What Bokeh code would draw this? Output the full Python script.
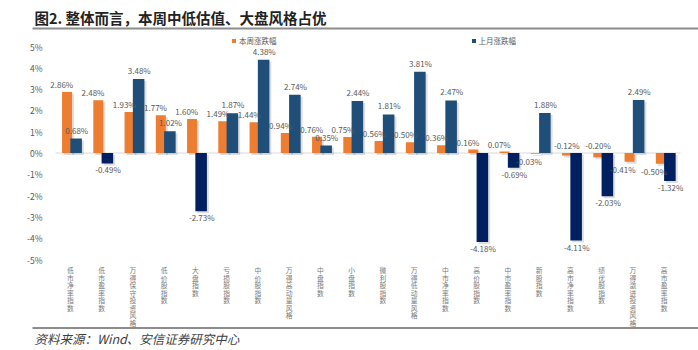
from bokeh.plotting import figure
from bokeh.models import (Range1d, FixedTicker, Label, ColumnDataSource, Legend, LegendItem,
                          PrintfTickFormatter)
from bokeh.transform import dodge
from bokeh.embed import file_html
from bokeh.resources import INLINE
from bokeh.core.properties import value, field

# ---------------- data ----------------
categories = ["低市净率指数", "低市盈率指数", "万得保守投资风格", "低价股指数", "大盘指数", "亏损股指数",
              "中价股指数", "万得高动量风格", "中盘指数", "小盘指数", "微利股指数", "万得低动量风格",
              "中市净率指数", "高价股指数", "中市盈率指数", "新股指数", "高市净率指数", "绩优股指数",
              "万得激进投资风格", "高市盈率指数"]
week_change = [2.86, 2.48, 1.93, 1.77, 1.60, 1.49, 1.44, 0.94, 0.76, 0.75, 0.56, 0.50, 0.36, 0.16,
               0.07, -0.03, -0.12, -0.20, -0.41, -0.50]
month_change = [0.68, -0.49, 3.48, 1.02, -2.73, 1.87, 4.38, 2.74, 0.35, 2.44, 1.81, 3.81, 2.47, -4.18,
                -0.69, 1.88, -4.11, -2.03, 2.49, -1.32]
series_names = ["本周涨跌幅", "上月涨跌幅"]
y_ticks = [-5, -4, -3, -2, -1, 0, 1, 2, 3, 4, 5]
title_text = "图2. 整体而言，本周中低估值、大盘风格占优"
source_text = "资料来源：Wind、安信证券研究中心"

ORANGE = "#ED7D31"
BLUE = "#1F4E79"
NAVY = "#002060"
FONT = "Noto Sans CJK SC"
LABEL_COLOR = "#595959"
CAT_COLOR = "#7a7a7a"
RULE_COLOR = "#8c8c8c"

# ---------------- layout (pixels) ----------------
W, H = 698, 350
PL, PR, PT, PB = 55, 680, 46, 259        # plot-area edges inside the canvas
n = len(categories)
cw = (PR - PL) / n                        # px per category
yu = (PB - PT) / (y_ticks[-1] - y_ticks[0])   # px per 1%
CHAR_PITCH = 7.5                          # vertical pitch of stacked category characters


def px_x(px):
    return (px - PL) / cw - 0.5


def px_y(py):
    return y_ticks[-1] - (py - PT) / yu


sh_x = 2.0 / cw
sh_y = 2.0 / yu

# orange labels: negative ones go above the zero line when the paired bar is a deep drop
week_up = [(w >= 0) or (m < -1.5) for w, m in zip(week_change, month_change)]
week_dx = [-0.30 if w >= 0 else (-0.14 if u else -0.35) for w, u in zip(week_change, week_up)]

src = ColumnDataSource(dict(
    xi=list(range(n)),
    week=week_change,
    month=month_change,
    mcolor=[BLUE if v >= 0 else NAVY for v in month_change],
    week_sh_top=[v - sh_y for v in week_change],
    month_sh_top=[v - sh_y for v in month_change],
    sh_bottom=[-sh_y] * n,
    week_txt=[f"{v:.2f}%" for v in week_change],
    month_txt=[f"{v:.2f}%" for v in month_change],
    week_lx=[i + d for i, d in zip(range(n), week_dx)],
    week_ly=[w if w >= 0 else (0 if u else w) for w, u in zip(week_change, week_up)],
    week_base=["bottom" if u else "top" for u in week_up],
    week_off=[-2 if u else 2 for u in week_up],
    month_base=["bottom" if v >= 0 else "top" for v in month_change],
    month_off=[-3 if v >= 0 else 1 for v in month_change],
))

# one text item per character of each category name, stacked downward
char_src = ColumnDataSource(dict(
    x=[i for i, c in enumerate(categories) for _ in c],
    y=[y_ticks[0] for c in categories for _ in c],
    ch=[ch for c in categories for ch in c],
    off=[5.5 + k * CHAR_PITCH for c in categories for k in range(len(c))],
))

p = figure(width=W, height=H, x_range=Range1d(px_x(0), px_x(W)), y_range=Range1d(px_y(H), px_y(0)),
           output_backend="svg", toolbar_location=None,
           min_border_left=0, min_border_right=0, min_border_top=0, min_border_bottom=0)
p.outline_line_color = None
p.xgrid.visible = False
p.ygrid.visible = False
p.background_fill_color = "white"
p.border_fill_color = "white"
p.xaxis.visible = False

# y axis drawn at the left edge of the plot area
p.yaxis.fixed_location = -0.5
p.yaxis.ticker = FixedTicker(ticks=y_ticks)
p.yaxis.formatter = PrintfTickFormatter(format="%d%%")
p.yaxis.axis_line_color = None
p.yaxis.major_tick_line_color = None
p.yaxis.minor_tick_line_color = None
p.yaxis.major_label_standoff = 7
p.yaxis.major_label_text_font = FONT
p.yaxis.major_label_text_font_size = "8.5px"
p.yaxis.major_label_text_color = LABEL_COLOR

# zero line
p.segment(x0=-0.5, x1=n - 0.5, y0=0, y1=0, line_color="#d9d9d9", line_width=1)

# shadows + bars
p.vbar(x=dodge("xi", -0.13 + sh_x), top="week_sh_top", bottom="sh_bottom",
       width=0.32, source=src, fill_color="#000000", fill_alpha=0.13, line_color=None)
orange = p.vbar(x=dodge("xi", -0.13), top="week", bottom=0, width=0.32,
                source=src, fill_color=ORANGE, line_color=None)
p.vbar(x=dodge("xi", 0.16 + sh_x), top="month_sh_top", bottom="sh_bottom",
       width=0.37, source=src, fill_color="#000000", fill_alpha=0.13, line_color=None)
blue = p.vbar(x=dodge("xi", 0.16), top="month", bottom=0, width=0.37,
              source=src, fill_color="mcolor", line_color=None)

# data labels
p.text(x="week_lx", y="week_ly", text="week_txt", source=src,
       text_align="center", text_baseline=field("week_base"), y_offset="week_off",
       text_font=value(FONT), text_font_size="8px", text_color=LABEL_COLOR)
p.text(x=dodge("xi", 0.18), y="month", text="month_txt", source=src,
       text_align="center", text_baseline=field("month_base"), y_offset="month_off",
       text_font=value(FONT), text_font_size="8px", text_color=LABEL_COLOR)

# category labels (vertical, stacked characters)
p.text(x=dodge("x", -0.02), y="y", text="ch", source=char_src, y_offset="off",
       text_align="center", text_baseline="top",
       text_font=value(FONT), text_font_size="6.8px", text_color=CAT_COLOR)

# legend
legend = Legend(items=[LegendItem(label=series_names[0], renderers=[orange]),
                       LegendItem(label=series_names[1], renderers=[blue])],
                orientation="horizontal", location=(231, H - 36 - 10),
                border_line_color=None, background_fill_alpha=0,
                label_text_font=FONT, label_text_font_size="7.5px", label_text_color=LABEL_COLOR,
                glyph_width=5, glyph_height=5, label_standoff=3, label_height=10, label_width=10,
                spacing=194, padding=0, margin=0)
p.add_layout(legend)

# title, rules, source
p.add_layout(Label(x=34, y=H - 17, x_units="screen", y_units="screen",
                   text=title_text, text_font=FONT, text_font_style="bold", text_font_size="14.5px",
                   text_color="#222222", text_baseline="middle"))
p.segment(x0=[px_x(32), px_x(32)], x1=[px_x(W), px_x(W)], y0=[px_y(28), px_y(327.5)],
          y1=[px_y(28), px_y(327.5)], line_color=RULE_COLOR, line_width=2)
p.add_layout(Label(x=34, y=H - 338, x_units="screen", y_units="screen",
                   text=source_text, text_font=FONT, text_font_style="italic", text_font_size="12.5px",
                   text_color="#404040", text_baseline="middle"))

open("out.html", "w").write(file_html(p, INLINE))
